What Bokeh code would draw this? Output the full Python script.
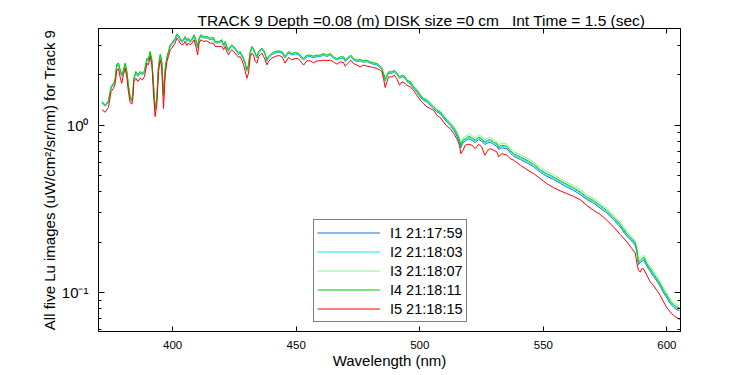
from bokeh.plotting import figure
from bokeh.models import (FixedTicker, LinearAxis, LogAxis, Legend, LegendItem,
                          Range1d, ColumnDataSource)
from bokeh.embed import file_html
from bokeh.resources import INLINE

# ---------------- data ----------------
wavelength = [
    371.4, 372.7, 374.0, 375.1, 376.1, 376.7, 377.4, 378.1, 378.8, 379.4,
    380.1, 380.8, 381.5, 382.1, 382.8, 383.5, 383.9, 384.3, 385.1, 385.9,
    386.9, 387.8, 388.6, 389.6, 390.2, 390.9, 391.6, 392.3, 392.9, 393.6,
    394.3, 395.0, 395.6, 396.3, 397.0, 397.7, 398.3, 399.0, 399.7, 401.0,
    401.7, 402.4, 403.0, 403.7, 404.4, 405.1, 405.7, 406.4, 407.1, 407.8,
    408.7, 409.4, 410.1, 410.7, 411.4, 412.5, 413.8, 415.2, 416.5, 417.2,
    418.6, 419.9, 420.6, 421.3, 421.9, 422.6, 423.3, 424.0, 425.3, 426.7,
    427.3, 428.0, 428.7, 429.4, 430.0, 430.7, 431.4, 432.1, 432.7, 433.4,
    434.1, 434.8, 435.4, 436.1, 436.8, 437.4, 438.1, 438.8, 440.1, 441.5,
    442.8, 444.2, 445.5, 446.9, 448.2, 449.6, 450.7, 451.6, 453.0, 454.3,
    455.7, 457.0, 458.4, 459.7, 461.1, 462.4, 463.8, 465.1, 466.5, 467.8,
    469.2, 469.8, 471.2, 472.1, 473.2, 474.6, 475.9, 477.3, 478.6, 480.0,
    481.3, 482.7, 484.0, 484.7, 485.4, 486.0, 486.7, 487.4, 488.7, 489.7,
    490.7, 491.8, 492.8, 494.1, 494.8, 496.1, 497.5, 498.8, 500.2, 501.5,
    502.9, 504.2, 505.6, 506.9, 508.3, 509.6, 511.0, 512.3, 513.7, 515.0,
    516.1, 516.6, 517.5, 518.4, 519.8, 521.1, 522.5, 523.8, 525.1, 526.3,
    527.5, 528.5, 529.9, 531.2, 531.9, 533.2, 535.3, 536.6, 538.0, 540.7,
    543.4, 546.1, 548.8, 551.4, 554.2, 556.9, 559.5, 562.2, 564.9, 567.6,
    570.3, 573.0, 575.7, 578.4, 581.1, 583.8, 585.9, 587.2, 587.9, 588.5,
    589.2, 589.9, 590.6, 591.9, 593.3, 594.6, 596.0, 597.3, 598.7, 600.0,
    601.4, 602.7, 604.1, 605.1,
]

lu_i1 = [
    1.357, 1.297, 1.370, 1.669, 1.746, 1.829, 2.269, 2.301, 2.098, 1.960,
    2.098, 2.301, 2.051, 1.707, 1.453, 1.389, 1.522, 1.872, 2.051, 1.960,
    2.051, 2.005, 2.071, 2.465, 2.409, 2.701, 2.409, 1.669, 1.239, 1.421,
    2.248, 2.604, 2.354, 1.490, 2.147, 2.522, 2.701, 2.960, 3.030, 3.245,
    3.429, 3.367, 3.245, 3.126, 3.201, 3.320, 3.171, 3.245, 3.126, 3.214,
    3.397, 3.171, 2.895, 3.245, 3.397, 3.320, 3.320, 3.245, 3.276, 3.101,
    3.101, 3.171, 2.960, 3.101, 2.895, 2.764, 2.895, 2.960, 2.828, 2.640,
    2.701, 2.580, 2.465, 2.301, 2.098, 2.248, 2.701, 2.895, 2.828, 2.640,
    2.522, 2.701, 2.764, 2.828, 2.764, 2.640, 2.409, 2.522, 2.640, 2.701,
    2.724, 2.701, 2.522, 2.701, 2.626, 2.666, 2.646, 2.569, 2.453, 2.569,
    2.569, 2.533, 2.569, 2.569, 2.628, 2.569, 2.628, 2.510, 2.453, 2.510,
    2.510, 2.397, 2.510, 2.569, 2.453, 2.397, 2.420, 2.376, 2.397, 2.343,
    2.312, 2.290, 2.208, 2.138, 1.996, 1.838, 1.950, 2.042, 2.042, 2.089,
    2.014, 1.906, 1.950, 1.906, 1.821, 1.771, 1.652, 1.579, 1.473, 1.407,
    1.376, 1.313, 1.255, 1.198, 1.171, 1.104, 1.044, 0.997, 0.935, 0.861,
    0.786, 0.733, 0.786, 0.803, 0.830, 0.814, 0.786, 0.822, 0.803, 0.767,
    0.786, 0.792, 0.767, 0.750, 0.716, 0.733, 0.723, 0.684, 0.653, 0.624,
    0.596, 0.565, 0.524, 0.496, 0.474, 0.449, 0.428, 0.409, 0.386, 0.360,
    0.344, 0.320, 0.299, 0.273, 0.247, 0.217, 0.203, 0.191, 0.173, 0.147,
    0.151, 0.154, 0.157, 0.144, 0.134, 0.125, 0.117, 0.109, 0.0994, 0.0930,
    0.0860, 0.0821, 0.0791, 0.0785,
]

lu_i2 = [
    1.364, 1.303, 1.377, 1.677, 1.755, 1.838, 2.280, 2.313, 2.109, 1.970,
    2.109, 2.313, 2.062, 1.716, 1.461, 1.396, 1.530, 1.881, 2.062, 1.970,
    2.062, 2.015, 2.081, 2.477, 2.421, 2.715, 2.421, 1.677, 1.245, 1.428,
    2.260, 2.617, 2.366, 1.497, 2.158, 2.534, 2.715, 2.975, 3.046, 3.261,
    3.447, 3.384, 3.261, 3.142, 3.217, 3.337, 3.187, 3.261, 3.142, 3.231,
    3.414, 3.187, 2.910, 3.261, 3.414, 3.337, 3.337, 3.261, 3.293, 3.117,
    3.117, 3.187, 2.975, 3.117, 2.910, 2.778, 2.910, 2.975, 2.843, 2.654,
    2.715, 2.594, 2.477, 2.313, 2.109, 2.260, 2.715, 2.910, 2.843, 2.654,
    2.534, 2.715, 2.778, 2.843, 2.778, 2.654, 2.421, 2.534, 2.654, 2.715,
    2.738, 2.715, 2.534, 2.715, 2.640, 2.679, 2.660, 2.582, 2.465, 2.582,
    2.582, 2.546, 2.582, 2.582, 2.642, 2.582, 2.642, 2.523, 2.465, 2.523,
    2.523, 2.409, 2.523, 2.582, 2.465, 2.409, 2.432, 2.388, 2.409, 2.355,
    2.324, 2.302, 2.219, 2.149, 2.006, 1.848, 1.960, 2.053, 2.053, 2.100,
    2.024, 1.916, 1.960, 1.916, 1.830, 1.789, 1.669, 1.595, 1.488, 1.421,
    1.390, 1.327, 1.268, 1.211, 1.183, 1.115, 1.055, 1.008, 0.954, 0.879,
    0.802, 0.749, 0.802, 0.820, 0.847, 0.831, 0.802, 0.839, 0.820, 0.783,
    0.802, 0.809, 0.783, 0.765, 0.731, 0.749, 0.738, 0.698, 0.667, 0.637,
    0.609, 0.576, 0.535, 0.506, 0.484, 0.458, 0.437, 0.418, 0.394, 0.367,
    0.351, 0.327, 0.305, 0.279, 0.252, 0.222, 0.207, 0.195, 0.176, 0.150,
    0.154, 0.158, 0.161, 0.147, 0.137, 0.128, 0.119, 0.111, 0.101, 0.0950,
    0.0878, 0.0838, 0.0808, 0.0801,
]

lu_i3 = [
    1.378, 1.316, 1.391, 1.694, 1.773, 1.857, 2.303, 2.336, 2.130, 1.990,
    2.130, 2.336, 2.083, 1.733, 1.476, 1.410, 1.545, 1.900, 2.083, 1.990,
    2.083, 2.036, 2.102, 2.502, 2.446, 2.742, 2.446, 1.694, 1.258, 1.443,
    2.283, 2.644, 2.390, 1.512, 2.180, 2.560, 2.742, 3.005, 3.077, 3.294,
    3.482, 3.419, 3.294, 3.174, 3.250, 3.371, 3.220, 3.294, 3.174, 3.264,
    3.449, 3.220, 2.939, 3.294, 3.449, 3.371, 3.371, 3.294, 3.326, 3.148,
    3.148, 3.220, 3.005, 3.148, 2.939, 2.806, 2.939, 3.005, 2.872, 2.681,
    2.742, 2.620, 2.502, 2.336, 2.130, 2.283, 2.742, 2.939, 2.872, 2.681,
    2.560, 2.742, 2.806, 2.872, 2.806, 2.681, 2.446, 2.560, 2.681, 2.742,
    2.766, 2.742, 2.560, 2.742, 2.667, 2.706, 2.687, 2.608, 2.490, 2.608,
    2.608, 2.572, 2.608, 2.608, 2.669, 2.608, 2.669, 2.548, 2.490, 2.548,
    2.548, 2.434, 2.548, 2.608, 2.490, 2.434, 2.457, 2.412, 2.434, 2.379,
    2.347, 2.325, 2.242, 2.171, 2.027, 1.867, 1.980, 2.074, 2.074, 2.121,
    2.045, 1.935, 1.980, 1.935, 1.849, 1.843, 1.719, 1.643, 1.534, 1.465,
    1.432, 1.367, 1.306, 1.247, 1.219, 1.149, 1.087, 1.038, 0.998, 0.919,
    0.838, 0.783, 0.838, 0.857, 0.886, 0.869, 0.838, 0.878, 0.857, 0.819,
    0.838, 0.846, 0.819, 0.800, 0.764, 0.783, 0.771, 0.730, 0.697, 0.666,
    0.637, 0.603, 0.559, 0.529, 0.506, 0.479, 0.457, 0.437, 0.412, 0.384,
    0.367, 0.342, 0.319, 0.291, 0.264, 0.232, 0.216, 0.204, 0.184, 0.157,
    0.161, 0.165, 0.168, 0.153, 0.143, 0.134, 0.125, 0.116, 0.106, 0.0993,
    0.0918, 0.0877, 0.0845, 0.0837,
]

lu_i4 = [
    1.385, 1.323, 1.398, 1.703, 1.782, 1.866, 2.315, 2.348, 2.141, 2.000,
    2.141, 2.348, 2.093, 1.742, 1.483, 1.417, 1.553, 1.910, 2.093, 2.000,
    2.093, 2.046, 2.113, 2.515, 2.458, 2.756, 2.458, 1.703, 1.264, 1.450,
    2.294, 2.657, 2.402, 1.520, 2.191, 2.573, 2.756, 3.020, 3.092, 3.311,
    3.499, 3.436, 3.311, 3.190, 3.266, 3.388, 3.236, 3.311, 3.190, 3.280,
    3.466, 3.236, 2.954, 3.311, 3.466, 3.388, 3.388, 3.311, 3.343, 3.164,
    3.164, 3.236, 3.020, 3.164, 2.954, 2.820, 2.954, 3.020, 2.886, 2.694,
    2.756, 2.633, 2.515, 2.348, 2.141, 2.294, 2.756, 2.954, 2.886, 2.694,
    2.573, 2.756, 2.820, 2.886, 2.820, 2.694, 2.458, 2.573, 2.694, 2.756,
    2.780, 2.756, 2.573, 2.756, 2.680, 2.720, 2.700, 2.621, 2.503, 2.621,
    2.621, 2.585, 2.621, 2.621, 2.682, 2.621, 2.682, 2.561, 2.503, 2.561,
    2.561, 2.446, 2.561, 2.621, 2.503, 2.446, 2.469, 2.424, 2.446, 2.391,
    2.359, 2.337, 2.253, 2.182, 2.037, 1.876, 1.990, 2.084, 2.084, 2.132,
    2.055, 1.945, 1.990, 1.945, 1.858, 1.816, 1.694, 1.619, 1.511, 1.443,
    1.411, 1.347, 1.287, 1.229, 1.201, 1.132, 1.071, 1.023, 0.969, 0.892,
    0.814, 0.760, 0.814, 0.832, 0.860, 0.844, 0.814, 0.852, 0.832, 0.795,
    0.814, 0.821, 0.795, 0.777, 0.742, 0.760, 0.749, 0.709, 0.677, 0.647,
    0.618, 0.585, 0.543, 0.514, 0.491, 0.465, 0.444, 0.424, 0.400, 0.373,
    0.356, 0.332, 0.310, 0.283, 0.256, 0.225, 0.210, 0.198, 0.179, 0.152,
    0.156, 0.160, 0.163, 0.149, 0.139, 0.130, 0.121, 0.113, 0.103, 0.0964,
    0.0891, 0.0851, 0.0820, 0.0813,
]

lu_i5 = [
    1.235, 1.196, 1.275, 1.589, 1.664, 1.758, 2.141, 2.171, 1.927, 1.782,
    2.000, 2.191, 1.910, 1.589, 1.372, 1.335, 1.450, 1.824, 1.910, 1.824,
    1.910, 1.866, 1.954, 2.348, 2.294, 2.573, 2.294, 1.518, 1.127, 1.323,
    2.093, 2.458, 2.191, 1.260, 2.000, 2.402, 2.573, 2.820, 2.886, 3.092,
    3.311, 3.236, 3.092, 3.020, 3.050, 3.164, 2.993, 3.092, 3.020, 3.092,
    3.236, 2.954, 2.633, 3.092, 3.236, 3.164, 3.190, 3.092, 3.092, 2.954,
    2.954, 2.954, 2.820, 2.954, 2.756, 2.633, 2.756, 2.820, 2.694, 2.538,
    2.573, 2.458, 2.294, 2.093, 1.910, 2.046, 2.573, 2.694, 2.633, 2.402,
    2.348, 2.573, 2.633, 2.694, 2.573, 2.458, 2.294, 2.402, 2.515, 2.573,
    2.609, 2.573, 2.348, 2.538, 2.458, 2.500, 2.500, 2.424, 2.284, 2.424,
    2.424, 2.359, 2.424, 2.424, 2.446, 2.424, 2.446, 2.391, 2.315, 2.391,
    2.359, 2.253, 2.359, 2.446, 2.337, 2.284, 2.232, 2.284, 2.253, 2.232,
    2.211, 2.182, 2.132, 2.084, 1.876, 1.680, 1.816, 1.945, 1.945, 1.990,
    1.901, 1.734, 1.816, 1.775, 1.734, 1.694, 1.619, 1.511, 1.411, 1.347,
    1.287, 1.258, 1.229, 1.148, 1.111, 1.047, 0.986, 0.955, 0.892, 0.832,
    0.760, 0.677, 0.709, 0.760, 0.770, 0.760, 0.725, 0.770, 0.742, 0.662,
    0.709, 0.725, 0.709, 0.693, 0.647, 0.677, 0.662, 0.632, 0.618, 0.577,
    0.543, 0.514, 0.480, 0.448, 0.424, 0.405, 0.391, 0.376, 0.360, 0.332,
    0.310, 0.294, 0.271, 0.247, 0.223, 0.201, 0.183, 0.1725, 0.149, 0.136,
    0.133, 0.139, 0.139, 0.127, 0.116, 0.1105, 0.103, 0.0964, 0.0879, 0.0813,
    0.0766, 0.0732, 0.0709, 0.069,
]

series_labels = ["I1 21:17:59", "I2 21:18:03", "I3 21:18:07", "I4 21:18:11", "I5 21:18:15"]
series_colors = ["#0A74E4", "#18E0EE", "#8CEE8C", "#00CC00", "#FF0000"]

x_ticks = [400, 450, 500, 550, 600]
y_ticks = [0.1, 1]
y_tick_labels = ["10\u207b\u00b9", "10\u2070"]
y_minor_ticks = [0.06, 0.07, 0.08, 0.09, 0.2, 0.3, 0.4, 0.5, 0.6, 0.7, 0.8, 0.9, 2, 3]

# extra spaces kept as no-break spaces so they are not collapsed
title_text = "TRACK 9 Depth =0.08 (m) DISK size =0 cm\u00a0\u00a0 Int Time = 1.5 (sec)"
x_label = "Wavelength (nm)"
y_label = "All five Lu images (uW/cm\u00b2/sr/nm) for Track 9"

FONT = "Liberation Sans"

# ---------------- figure ----------------
p = figure(width=750, height=375,
           x_range=Range1d(370, 605.5), y_range=Range1d(0.0587, 3.78),
           y_axis_type="log", output_backend="svg", toolbar_location=None,
           min_border_left=98, min_border_right=70, min_border_top=28,
           min_border_bottom=44)
p.background_fill_color = "white"
p.border_fill_color = "white"
p.outline_line_color = "black"
p.outline_line_width = 1
p.xgrid.visible = False
p.ygrid.visible = False

# title
p.title.text = title_text
p.title.align = "left"
p.title.offset = 99
p.title.standoff = 0
p.title.text_font = FONT
p.title.text_font_size = "15.5px"
p.title.text_font_style = "normal"
p.title.text_color = "black"

src = ColumnDataSource(dict(x=wavelength, i1=lu_i1, i2=lu_i2, i3=lu_i3, i4=lu_i4, i5=lu_i5))
renderers = []
for key, col in zip(["i1", "i2", "i3", "i4", "i5"], series_colors):
    r = p.line("x", key, source=src, line_color=col, line_width=1)
    renderers.append(r)

blank_x = {t: "" for t in x_ticks}
blank_y = {t: "" for t in y_ticks}

# bottom axis
xa = p.xaxis[0]
xa.ticker = FixedTicker(ticks=x_ticks)
xa.major_tick_in = 5
xa.major_tick_out = 0
xa.minor_tick_line_color = None
xa.axis_line_color = "black"
xa.major_tick_line_color = "black"
xa.major_label_text_font = FONT
xa.major_label_text_font_size = "11.5px"
xa.major_label_text_color = "black"
xa.major_label_standoff = 9
xa.axis_label = x_label
xa.axis_label_text_font = FONT
xa.axis_label_text_font_size = "15px"
xa.axis_label_text_font_style = "normal"
xa.axis_label_text_color = "black"
xa.axis_label_standoff = 0

# left axis
ya = p.yaxis[0]
ya.ticker = FixedTicker(ticks=y_ticks, minor_ticks=y_minor_ticks)
ya.major_tick_in = 6
ya.major_tick_out = 0
ya.minor_tick_in = 3
ya.minor_tick_out = 0
ya.axis_line_color = "black"
ya.major_tick_line_color = "black"
ya.minor_tick_line_color = "black"
ya.major_label_overrides = dict(zip(y_ticks, y_tick_labels))
ya.major_label_text_font = FONT
ya.major_label_text_font_size = "15px"
ya.major_label_text_color = "black"
ya.major_label_standoff = 10
ya.axis_label = y_label
ya.axis_label_text_font = FONT
ya.axis_label_text_font_size = "15px"
ya.axis_label_text_font_style = "normal"
ya.axis_label_text_color = "black"
ya.axis_label_standoff = 1

# mirrored top / right ticks (box on)
top_axis = LinearAxis(ticker=FixedTicker(ticks=x_ticks), major_tick_in=5, major_tick_out=0,
                      minor_tick_line_color=None, major_label_overrides=blank_x,
                      major_label_text_font_size="1px",
                      major_label_standoff=0, axis_line_color="black")
p.add_layout(top_axis, "above")
right_axis = LogAxis(ticker=FixedTicker(ticks=y_ticks, minor_ticks=y_minor_ticks),
                     major_tick_in=6, major_tick_out=0, minor_tick_in=3, minor_tick_out=0,
                     major_label_overrides=blank_y, major_label_text_font_size="1px",
                     major_label_standoff=0, axis_line_color="black")
p.add_layout(right_axis, "right")

# legend
items = [LegendItem(label=lab, renderers=[r]) for lab, r in zip(series_labels, renderers)]
legend = Legend(items=items, location=(215, 9), padding=3, spacing=0, margin=0,
                label_height=19, glyph_height=19, glyph_width=63, label_standoff=10,
                label_text_font=FONT, label_text_font_size="14.5px", label_text_color="black",
                title_standoff=0,
                border_line_color="black", border_line_width=1,
                background_fill_color="white", background_fill_alpha=1.0)
p.add_layout(legend)

open("out.html", "w").write(file_html(p, INLINE))
